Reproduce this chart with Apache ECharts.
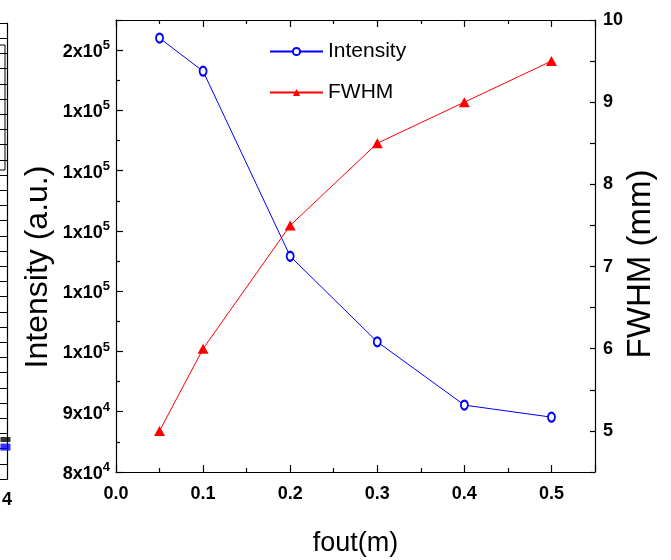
<!DOCTYPE html>
<html>
<head>
<meta charset="utf-8">
<script src="https://cdn.jsdelivr.net/npm/echarts@6/dist/echarts.min.js"></script>
<style>
  html, body { margin: 0; padding: 0; background: #fff; }
  #chart { width: 671px; height: 560px; }
</style>
</head>
<body>
<div id="chart"></div>
<script>
// Focal length of the output lens (m)
const fout = [0.05, 0.1, 0.2, 0.3, 0.4, 0.5];
// Peak intensity (a.u.), left axis
const intensity = [152000, 146500, 115800, 101600, 91100, 89100];
// Spot width (mm), right axis
const fwhm = [5.0, 6.0, 7.5, 8.5, 9.0, 9.5];

// Edge of the neighbouring panel
const sideX = [3.98];
const sideBlue = [2.1];
const sideBlack = [2.6];

const FONT = 'Liberation Sans, Arial, sans-serif';

function sciLabel(v) {
  if (v >= 155000) return '';
  const e = Math.floor(Math.log10(v));
  const m = Math.round(v / Math.pow(10, e));
  return '{b|' + m + 'x10}{s|' + e + '}';
}

const chart = echarts.init(document.getElementById('chart'), null, { renderer: 'canvas' });

const axisLine = { show: true, onZero: false, lineStyle: { color: '#000', width: 1.2 } };
const tickStyle = { color: '#000', width: 1.2 };

chart.setOption({
  animation: false,
  backgroundColor: '#fff',
  grid: [
    { left: 116, right: 76, top: 20, bottom: 88, outerBoundsMode: 'none' },
    { left: -300, width: 307, top: 23, bottom: 81, show: false, outerBoundsMode: 'none' }
  ],
  legend: {
    orient: 'vertical',
    left: 264,
    top: 36,
    itemWidth: 53,
    itemHeight: 9,
    itemGap: 20,
    textStyle: { fontFamily: FONT, fontSize: 21, color: '#000' },
    data: ['Intensity', 'FWHM']
  },
  xAxis: [
    {
      type: 'value', gridIndex: 0, min: 0, max: 0.55, interval: 0.1,
      position: 'bottom',
      axisLine: axisLine,
      axisTick: { show: true, inside: true, length: 7, lineStyle: tickStyle },
      minorTick: { show: true, splitNumber: 2, length: 4, lineStyle: tickStyle },
      splitLine: { show: false },
      axisLabel: {
        margin: 13, fontFamily: FONT, fontSize: 18, fontWeight: 'bold', color: '#000',
        showMaxLabel: false,
        formatter: v => (v <= 0.5001 ? v.toFixed(1) : '')
      },
      name: 'fout(m)', nameLocation: 'middle', nameGap: 58, nameMoveOverlap: false,
      nameTextStyle: { fontFamily: FONT, fontSize: 27, color: '#000' }
    },
    {
      type: 'value', gridIndex: 0, min: 0, max: 0.55, interval: 0.1,
      position: 'top',
      axisLine: axisLine,
      axisTick: { show: true, inside: true, length: 7, lineStyle: tickStyle },
      minorTick: { show: true, splitNumber: 2, length: 4, lineStyle: tickStyle },
      splitLine: { show: false },
      axisLabel: { show: false }
    },
    {
      type: 'value', gridIndex: 1, min: 0, max: 4, interval: 1,
      position: 'bottom',
      axisLine: axisLine,
      axisTick: { show: false },
      splitLine: { show: false },
      axisLabel: {
        margin: 12, fontFamily: FONT, fontSize: 18, fontWeight: 'bold', color: '#000',
        formatter: v => (v === 4 ? '4' : '')
      }
    },
    {
      type: 'value', gridIndex: 1, min: 0, max: 4, position: 'top',
      axisLine: axisLine, axisTick: { show: false }, axisLabel: { show: false },
      splitLine: { show: false }
    }
  ],
  yAxis: [
    {
      type: 'value', gridIndex: 0, min: 80000, max: 155000, interval: 10000,
      position: 'left',
      axisLine: axisLine,
      axisTick: { show: true, inside: true, length: 7, lineStyle: tickStyle },
      minorTick: { show: true, splitNumber: 2, length: 4, lineStyle: tickStyle },
      splitLine: { show: false },
      axisLabel: {
        margin: 6, formatter: sciLabel,
        rich: {
          b: { fontFamily: FONT, fontSize: 18, fontWeight: 'bold', color: '#000', lineHeight: 22, verticalAlign: 'bottom' },
          s: { fontFamily: FONT, fontSize: 13, fontWeight: 'bold', color: '#000', lineHeight: 22, verticalAlign: 'top', padding: [0, 0, 9, 0] }
        }
      },
      name: 'Intensity (a.u.)', nameLocation: 'middle', nameRotate: 90, nameGap: 62, nameMoveOverlap: false,
      nameTextStyle: { fontFamily: FONT, fontSize: 32, color: '#000', padding: [0, 42, 0, 0] }
    },
    {
      type: 'value', gridIndex: 0, min: 4.5, max: 10, interval: 0.5,
      position: 'right',
      axisLine: axisLine,
      axisTick: { show: true, inside: true, length: 5, lineStyle: tickStyle },
      splitLine: { show: false },
      axisLabel: {
        margin: 8, fontFamily: FONT, fontSize: 18, fontWeight: 'bold', color: '#000',
        formatter: v => (Math.abs(v - Math.round(v)) < 1e-6 && v >= 5 ? String(Math.round(v)) : '')
      },
      name: 'FWHM (mm)', nameLocation: 'middle', nameRotate: 90, nameGap: 29, nameMoveOverlap: false,
      nameTextStyle: { fontFamily: FONT, fontSize: 33, color: '#000', padding: [0, 36, 0, 0] }
    },
    {
      type: 'value', gridIndex: 1, min: 0, max: 30, interval: 1,
      position: 'right',
      axisLine: axisLine,
      axisTick: { show: true, inside: true, length: 7, lineStyle: { color: '#000', width: 1 } },
      axisLabel: { show: false },
      splitLine: { show: false }
    },
    {
      type: 'value', gridIndex: 1, min: 0, max: 30, position: 'left',
      axisLine: axisLine, axisTick: { show: false }, axisLabel: { show: false },
      splitLine: { show: false }
    }
  ],
  graphic: [
    { type: 'rect', shape: { x: -10, y: 45, width: 15, height: 125 },
      style: { fill: 'none', stroke: '#000', lineWidth: 1 } }
  ],
  series: [
    {
      name: 'Intensity', type: 'line', xAxisIndex: 0, yAxisIndex: 0,
      data: fout.map((x, i) => [x, intensity[i]]),
      symbol: 'emptyCircle', symbolSize: [7, 9],
      lineStyle: { color: '#0000ff', width: 1 },
      itemStyle: { color: '#0000ff', borderColor: '#0000ff', borderWidth: 1.2 }
    },
    {
      name: 'FWHM', type: 'line', xAxisIndex: 0, yAxisIndex: 1,
      data: fout.map((x, i) => [x, fwhm[i]]),
      symbol: 'triangle', symbolSize: [11, 10],
      lineStyle: { color: '#ff0000', width: 1 },
      itemStyle: { color: '#ff0000' }
    },
    {
      name: 'side-blue', type: 'scatter', xAxisIndex: 2, yAxisIndex: 2,
      data: sideX.map((x, i) => [x, sideBlue[i]]),
      symbol: 'rect', symbolSize: [10, 7],
      itemStyle: { color: '#0000ff' }, silent: true
    },
    {
      name: 'side-black', type: 'scatter', xAxisIndex: 2, yAxisIndex: 2,
      data: sideX.map((x, i) => [x, sideBlack[i]]),
      symbol: 'rect', symbolSize: [10, 5],
      itemStyle: { color: '#000' }, silent: true
    }
  ]
});
</script>
</body>
</html>
